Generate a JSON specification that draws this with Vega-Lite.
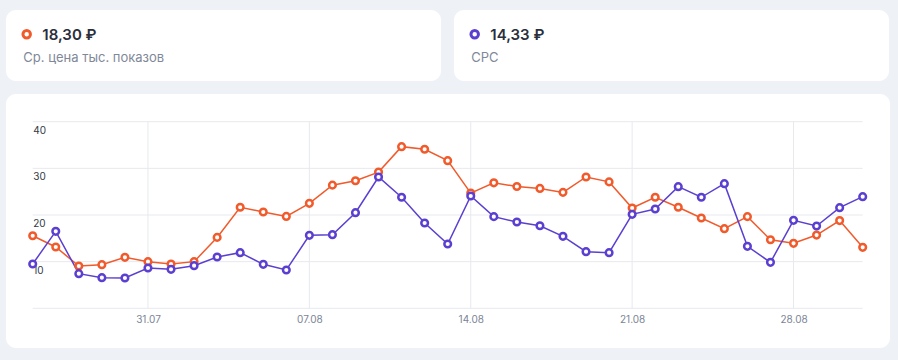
{
  "$schema": "https://vega.github.io/schema/vega-lite/v6.json",
  "background": "#eef1f5",
  "padding": {"left": 6, "top": 10, "right": 8, "bottom": 12},
  "config": {
    "font": "Inter",
    "view": {"stroke": null},
    "concat": {"spacing": 13}
  },
  "datasets": {
    "cards": [
      {"metric": "Ср. цена тыс. показов", "value": "18,30 ₽"},
      {"metric": "CPC", "value": "14,33 ₽"}
    ],
    "series": [
      {"date": "2023-07-26", "metric": "Ср. цена тыс. показов", "value": 15.56},
      {"date": "2023-07-27", "metric": "Ср. цена тыс. показов", "value": 13.14},
      {"date": "2023-07-28", "metric": "Ср. цена тыс. показов", "value": 9.07},
      {"date": "2023-07-29", "metric": "Ср. цена тыс. показов", "value": 9.35},
      {"date": "2023-07-30", "metric": "Ср. цена тыс. показов", "value": 10.93},
      {"date": "2023-07-31", "metric": "Ср. цена тыс. показов", "value": 10.0},
      {"date": "2023-08-01", "metric": "Ср. цена тыс. показов", "value": 9.5},
      {"date": "2023-08-02", "metric": "Ср. цена тыс. показов", "value": 10.0},
      {"date": "2023-08-03", "metric": "Ср. цена тыс. показов", "value": 15.2},
      {"date": "2023-08-04", "metric": "Ср. цена тыс. показов", "value": 21.65},
      {"date": "2023-08-05", "metric": "Ср. цена тыс. показов", "value": 20.65},
      {"date": "2023-08-06", "metric": "Ср. цена тыс. показов", "value": 19.7},
      {"date": "2023-08-07", "metric": "Ср. цена тыс. показов", "value": 22.5},
      {"date": "2023-08-08", "metric": "Ср. цена тыс. показов", "value": 26.4},
      {"date": "2023-08-09", "metric": "Ср. цена тыс. показов", "value": 27.35},
      {"date": "2023-08-10", "metric": "Ср. цена тыс. показов", "value": 29.2},
      {"date": "2023-08-11", "metric": "Ср. цена тыс. показов", "value": 34.65},
      {"date": "2023-08-12", "metric": "Ср. цена тыс. показов", "value": 34.1},
      {"date": "2023-08-13", "metric": "Ср. цена тыс. показов", "value": 31.65},
      {"date": "2023-08-14", "metric": "Ср. цена тыс. показов", "value": 24.7},
      {"date": "2023-08-15", "metric": "Ср. цена тыс. показов", "value": 26.9},
      {"date": "2023-08-16", "metric": "Ср. цена тыс. показов", "value": 26.1},
      {"date": "2023-08-17", "metric": "Ср. цена тыс. показов", "value": 25.7},
      {"date": "2023-08-18", "metric": "Ср. цена тыс. показов", "value": 24.85},
      {"date": "2023-08-19", "metric": "Ср. цена тыс. показов", "value": 28.15},
      {"date": "2023-08-20", "metric": "Ср. цена тыс. показов", "value": 27.1},
      {"date": "2023-08-21", "metric": "Ср. цена тыс. показов", "value": 21.5},
      {"date": "2023-08-22", "metric": "Ср. цена тыс. показов", "value": 23.8},
      {"date": "2023-08-23", "metric": "Ср. цена тыс. показов", "value": 21.65},
      {"date": "2023-08-24", "metric": "Ср. цена тыс. показов", "value": 19.36},
      {"date": "2023-08-25", "metric": "Ср. цена тыс. показов", "value": 17.07},
      {"date": "2023-08-26", "metric": "Ср. цена тыс. показов", "value": 19.65},
      {"date": "2023-08-27", "metric": "Ср. цена тыс. показов", "value": 14.7},
      {"date": "2023-08-28", "metric": "Ср. цена тыс. показов", "value": 13.93},
      {"date": "2023-08-29", "metric": "Ср. цена тыс. показов", "value": 15.7},
      {"date": "2023-08-30", "metric": "Ср. цена тыс. показов", "value": 18.8},
      {"date": "2023-08-31", "metric": "Ср. цена тыс. показов", "value": 13.07},
      {"date": "2023-07-26", "metric": "CPC", "value": 9.5},
      {"date": "2023-07-27", "metric": "CPC", "value": 16.5},
      {"date": "2023-07-28", "metric": "CPC", "value": 7.42},
      {"date": "2023-07-29", "metric": "CPC", "value": 6.57},
      {"date": "2023-07-30", "metric": "CPC", "value": 6.5},
      {"date": "2023-07-31", "metric": "CPC", "value": 8.64},
      {"date": "2023-08-01", "metric": "CPC", "value": 8.35},
      {"date": "2023-08-02", "metric": "CPC", "value": 9.14},
      {"date": "2023-08-03", "metric": "CPC", "value": 11.0},
      {"date": "2023-08-04", "metric": "CPC", "value": 11.93},
      {"date": "2023-08-05", "metric": "CPC", "value": 9.43},
      {"date": "2023-08-06", "metric": "CPC", "value": 8.21},
      {"date": "2023-08-07", "metric": "CPC", "value": 15.64},
      {"date": "2023-08-08", "metric": "CPC", "value": 15.78},
      {"date": "2023-08-09", "metric": "CPC", "value": 20.5},
      {"date": "2023-08-10", "metric": "CPC", "value": 28.15},
      {"date": "2023-08-11", "metric": "CPC", "value": 23.8},
      {"date": "2023-08-12", "metric": "CPC", "value": 18.28},
      {"date": "2023-08-13", "metric": "CPC", "value": 13.78},
      {"date": "2023-08-14", "metric": "CPC", "value": 24.07},
      {"date": "2023-08-15", "metric": "CPC", "value": 19.65},
      {"date": "2023-08-16", "metric": "CPC", "value": 18.5},
      {"date": "2023-08-17", "metric": "CPC", "value": 17.7},
      {"date": "2023-08-18", "metric": "CPC", "value": 15.43},
      {"date": "2023-08-19", "metric": "CPC", "value": 12.14},
      {"date": "2023-08-20", "metric": "CPC", "value": 11.93},
      {"date": "2023-08-21", "metric": "CPC", "value": 20.14},
      {"date": "2023-08-22", "metric": "CPC", "value": 21.28},
      {"date": "2023-08-23", "metric": "CPC", "value": 26.07},
      {"date": "2023-08-24", "metric": "CPC", "value": 23.8},
      {"date": "2023-08-25", "metric": "CPC", "value": 26.72},
      {"date": "2023-08-26", "metric": "CPC", "value": 13.28},
      {"date": "2023-08-27", "metric": "CPC", "value": 9.85},
      {"date": "2023-08-28", "metric": "CPC", "value": 18.86},
      {"date": "2023-08-29", "metric": "CPC", "value": 17.64},
      {"date": "2023-08-30", "metric": "CPC", "value": 21.57},
      {"date": "2023-08-31", "metric": "CPC", "value": 23.93}
    ]
  },
  "vconcat": [
    {
      "hconcat": [
        {
          "width": 435,
          "height": 71,
          "view": {"fill": "#ffffff", "cornerRadius": 10, "stroke": null},
          "data": {"name": "cards"},
          "transform": [{"filter": "datum.metric === 'Ср. цена тыс. показов'"}],
          "layer": [
            {
              "mark": {"type": "point", "shape": "circle", "filled": false, "fill": "#ffffff", "strokeWidth": 3, "size": 56, "x": 20.7, "y": 24.3, "opacity": 1},
              "encoding": {
                "color": {"field": "metric", "type": "nominal", "scale": {"domain": ["Ср. цена тыс. показов", "CPC"], "range": ["#f15a2b", "#5b3fd0"]}, "legend": null}
              }
            },
            {
              "mark": {"type": "text", "x": 36.3, "y": 30, "align": "left", "baseline": "alphabetic", "fontSize": 15, "fontWeight": 600, "color": "#2a2f3b"},
              "encoding": {"text": {"field": "value"}}
            },
            {
              "mark": {"type": "text", "x": 17.3, "y": 51.5, "align": "left", "baseline": "alphabetic", "fontSize": 13, "color": "#7f8898"},
              "encoding": {"text": {"field": "metric"}}
            }
          ]
        },
        {
          "width": 435,
          "height": 71,
          "view": {"fill": "#ffffff", "cornerRadius": 10, "stroke": null},
          "data": {"name": "cards"},
          "transform": [{"filter": "datum.metric === 'CPC'"}],
          "layer": [
            {
              "mark": {"type": "point", "shape": "circle", "filled": false, "fill": "#ffffff", "strokeWidth": 3, "size": 56, "x": 20.7, "y": 24.3, "opacity": 1},
              "encoding": {
                "color": {"field": "metric", "type": "nominal", "scale": {"domain": ["Ср. цена тыс. показов", "CPC"], "range": ["#f15a2b", "#5b3fd0"]}, "legend": null}
              }
            },
            {
              "mark": {"type": "text", "x": 36.3, "y": 30, "align": "left", "baseline": "alphabetic", "fontSize": 15, "fontWeight": 600, "color": "#2a2f3b"},
              "encoding": {"text": {"field": "value"}}
            },
            {
              "mark": {"type": "text", "x": 17.3, "y": 51.5, "align": "left", "baseline": "alphabetic", "fontSize": 13, "color": "#7f8898"},
              "encoding": {"text": {"field": "metric"}}
            }
          ]
        }
      ]
    },
    {
      "width": 884,
      "height": 254,
      "view": {"fill": "#ffffff", "cornerRadius": 10, "stroke": null},
      "layer": [
        {
          "data": {"values": [{"g": 0}, {"g": 10}, {"g": 20}, {"g": 30}, {"g": 40}]},
          "mark": {"type": "rule", "color": "#e7e9ee", "strokeWidth": 1},
          "encoding": {
            "y": {"field": "g", "type": "quantitative", "scale": {"domain": [0, 40], "range": [214.3, 27.7], "nice": false, "zero": true},
              "axis": {"title": null, "orient": "left", "offset": -26.7, "domain": false, "ticks": false, "tickSize": 0, "grid": false, "labelAlign": "left", "labelPadding": 0, "labelBaseline": "middle", "labelOffset": 8.5, "labelFontSize": 10, "labelColor": "#333a45", "values": [10, 20, 30, 40]}},
            "x": {"datum": {"year": 2023, "month": 7, "date": 26, "utc": true}, "type": "temporal", "scale": {"type": "utc", "domain": [{"year": 2023, "month": 7, "date": 26, "utc": true}, {"year": 2023, "month": 8, "date": 31, "utc": true}], "range": [26.7, 856.7], "nice": false},
              "axis": {"title": null, "orient": "bottom", "offset": -39.7, "domain": false, "ticks": false, "tickSize": 0, "grid": false, "labelPadding": 6, "labelFontSize": 10, "labelColor": "#7b8496", "labelFlush": false, "labelExpr": "utcFormat(datum.value, '%d.%m')",
                "values": [{"year": 2023, "month": 7, "date": 31, "utc": true}, {"year": 2023, "month": 8, "date": 7, "utc": true}, {"year": 2023, "month": 8, "date": 14, "utc": true}, {"year": 2023, "month": 8, "date": 21, "utc": true}, {"year": 2023, "month": 8, "date": 28, "utc": true}]}},
            "x2": {"datum": {"year": 2023, "month": 8, "date": 31, "utc": true}}
          }
        },
        {
          "data": {"values": [{"d": "2023-07-31"}, {"d": "2023-08-07"}, {"d": "2023-08-14"}, {"d": "2023-08-21"}, {"d": "2023-08-28"}]},
          "mark": {"type": "rule", "color": "#e7e9ee", "strokeWidth": 1},
          "encoding": {
            "x": {"field": "d", "type": "temporal"},
            "y": {"datum": 0, "type": "quantitative"},
            "y2": {"datum": 40}
          }
        },
        {
          "data": {"name": "series"},
          "mark": {"type": "line", "strokeWidth": 1.5},
          "encoding": {
            "x": {"field": "date", "type": "temporal"},
            "y": {"field": "value", "type": "quantitative"},
            "color": {"field": "metric", "type": "nominal", "scale": {"domain": ["Ср. цена тыс. показов", "CPC"], "range": ["#f15a2b", "#5b3fd0"]}, "legend": null}
          }
        },
        {
          "data": {"name": "series"},
          "mark": {"type": "point", "shape": "circle", "filled": false, "fill": "#ffffff", "strokeWidth": 2.5, "size": 44, "opacity": 1},
          "encoding": {
            "x": {"field": "date", "type": "temporal"},
            "y": {"field": "value", "type": "quantitative"},
            "color": {"field": "metric", "type": "nominal", "legend": null}
          }
        }
      ]
    }
  ]
}
